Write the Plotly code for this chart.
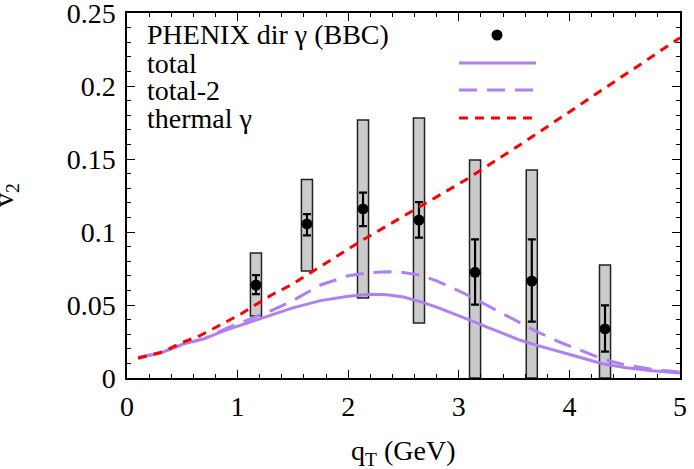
import plotly.graph_objects as go

# ---- data ----
pt_q = [1.166, 1.627, 2.134, 2.64, 3.147, 3.66, 4.322]
pt_v2 = [0.0637, 0.1055, 0.1158, 0.1082, 0.0724, 0.0664, 0.0336]
pt_err_up = [0.0068, 0.0068, 0.0112, 0.0123, 0.0226, 0.0286, 0.0162]
pt_err_dn = [0.0062, 0.0078, 0.0118, 0.0121, 0.0222, 0.0278, 0.0156]
box_lo = [0.0425, 0.0733, 0.0548, 0.0377, 0.0, 0.0, 0.0]
box_hi = [0.0856, 0.1360, 0.1767, 0.1780, 0.1493, 0.1425, 0.0774]

curve_q = [0.1, 0.3, 0.5, 0.7, 0.9, 1.1, 1.3, 1.5, 1.75, 2.0, 2.2, 2.35, 2.5,
           2.65, 2.8, 2.95, 3.1, 3.25, 3.4, 3.55, 3.7, 3.9, 4.1, 4.3, 4.5, 4.75, 5.0]
total_v2 = [0.014, 0.017, 0.023, 0.027, 0.033, 0.038, 0.043, 0.048, 0.053, 0.056,
            0.0573, 0.057, 0.0555, 0.0523, 0.0485, 0.0442, 0.0397, 0.035, 0.0305,
            0.026, 0.0225, 0.018, 0.014, 0.0098, 0.0072, 0.005, 0.0035]
total2_v2 = [0.014, 0.017, 0.023, 0.027, 0.034, 0.040, 0.046, 0.053, 0.0637, 0.070,
             0.0722, 0.0728, 0.0722, 0.0705, 0.0665, 0.0614, 0.056, 0.050, 0.044,
             0.0377, 0.032, 0.025, 0.019, 0.013, 0.009, 0.006, 0.004]
thermal_q = [0.1, 0.33, 0.49, 0.66, 1.01, 1.31, 1.49, 2.13, 3.06, 3.58, 5.0]
thermal_v2 = [0.0135, 0.018, 0.024, 0.029, 0.043, 0.057, 0.064, 0.0945, 0.1356, 0.161, 0.233]

x_ticks = [0, 1, 2, 3, 4, 5]
y_ticks = [0, 0.05, 0.1, 0.15, 0.2, 0.25]
y_ticktext = ["0", "0.05", "0.1", "0.15", "0.2", "0.25"]

legend_labels = ["PHENIX dir γ (BBC)", "total", "total-2", "thermal γ"]

PURPLE = "#b07ff2"
RED = "#ff0000"
FONT = "Liberation Serif"

fig = go.Figure()

fig.add_trace(go.Scatter(x=curve_q, y=total_v2, mode="lines",
                         line=dict(color=PURPLE, width=3), showlegend=False))
fig.add_trace(go.Scatter(x=curve_q, y=total2_v2, mode="lines",
                         line=dict(color=PURPLE, width=3, dash="18px,10px"), showlegend=False))

fig.add_trace(go.Bar(x=pt_q, y=[h - l for h, l in zip(box_hi, box_lo)], base=box_lo,
                     width=[0.1] * len(pt_q),
                     marker=dict(color="#cbcbcb", line=dict(color="#222222", width=1.5)),
                     showlegend=False))

fig.add_trace(go.Scatter(x=pt_q, y=pt_v2, mode="markers",
                         marker=dict(color="black", size=11),
                         error_y=dict(type="data", symmetric=False, array=pt_err_up,
                                      arrayminus=pt_err_dn, color="black",
                                      thickness=2.2, width=4),
                         showlegend=False))

fig.add_trace(go.Scatter(x=thermal_q, y=thermal_v2, mode="lines",
                         line=dict(color=RED, width=3, dash="9px,7px"), showlegend=False))

# ---- legend (text left, sample right, gnuplot style) ----
L, R, T, B = 127, 680, 13, 378
W, H = R - L, B - T
def px(xp):
    return (xp - L) / W
def py(yp):
    return (B - yp) / H

rows = [35, 63, 90, 118]
for lab, yy in zip(legend_labels, rows):
    fig.add_annotation(x=px(145), y=py(yy), xref="paper", yref="paper", text=lab,
                       showarrow=False, xanchor="left", yanchor="middle",
                       font=dict(family=FONT, size=28, color="black"))

shapes = []
shapes.append(dict(type="circle", xref="paper", yref="paper", xsizemode="pixel",
                   ysizemode="pixel", xanchor=px(497), yanchor=py(rows[0]),
                   x0=-5.5, x1=5.5, y0=-5.5, y1=5.5, fillcolor="black",
                   line=dict(color="black", width=0)))
shapes.append(dict(type="line", xref="paper", yref="paper", x0=px(459), x1=px(536),
                   y0=py(rows[1]), y1=py(rows[1]), line=dict(color=PURPLE, width=3)))
shapes.append(dict(type="line", xref="paper", yref="paper", x0=px(459), x1=px(536),
                   y0=py(rows[2]), y1=py(rows[2]),
                   line=dict(color=PURPLE, width=3, dash="18px,10px")))
shapes.append(dict(type="line", xref="paper", yref="paper", x0=px(459), x1=px(536),
                   y0=py(rows[3]), y1=py(rows[3]),
                   line=dict(color=RED, width=3, dash="9px,7px")))

fig.add_annotation(x=px(6), y=py(195), xref="paper", yref="paper",
                   text="v<sub>2</sub>", textangle=-90, showarrow=False,
                   xanchor="center", yanchor="middle",
                   font=dict(family=FONT, size=28, color="black"))

fig.add_annotation(x=0.5, y=py(452), xref="paper", yref="paper",
                   text="q<sub>T</sub> (GeV)", showarrow=False,
                   xanchor="center", yanchor="middle",
                   font=dict(family=FONT, size=28, color="black"))

axis_common = dict(showline=True, linecolor="black", linewidth=1.5, mirror="ticks",
                   ticks="inside", ticklen=8, tickwidth=1.2, tickcolor="black",
                   showgrid=False, zeroline=False, ticklabeloverflow="allow",
                   automargin=False,
                   tickfont=dict(family=FONT, size=28, color="black"))

fig.update_layout(
    width=694, height=469,
    margin=dict(l=L, r=694 - R, t=T, b=469 - B, autoexpand=False),
    paper_bgcolor="white", plot_bgcolor="white",
    shapes=shapes,
    xaxis=dict(range=[0, 5], tickvals=x_ticks, ticktext=[str(v) for v in x_ticks],
               minor=dict(tick0=0, dtick=0.2, ticks="inside", ticklen=4, tickcolor="black"),
               ticklabelstandoff=3,
               **axis_common),
    yaxis=dict(range=[0, 0.25], tickvals=y_ticks, ticktext=y_ticktext,
               minor=dict(tick0=0, dtick=0.01, ticks="inside", ticklen=4, tickcolor="black"),
               ticklabelstandoff=4,
               **axis_common),
    font=dict(family=FONT, size=28, color="black"),
    showlegend=False,
)

fig.write_html("out.html")
